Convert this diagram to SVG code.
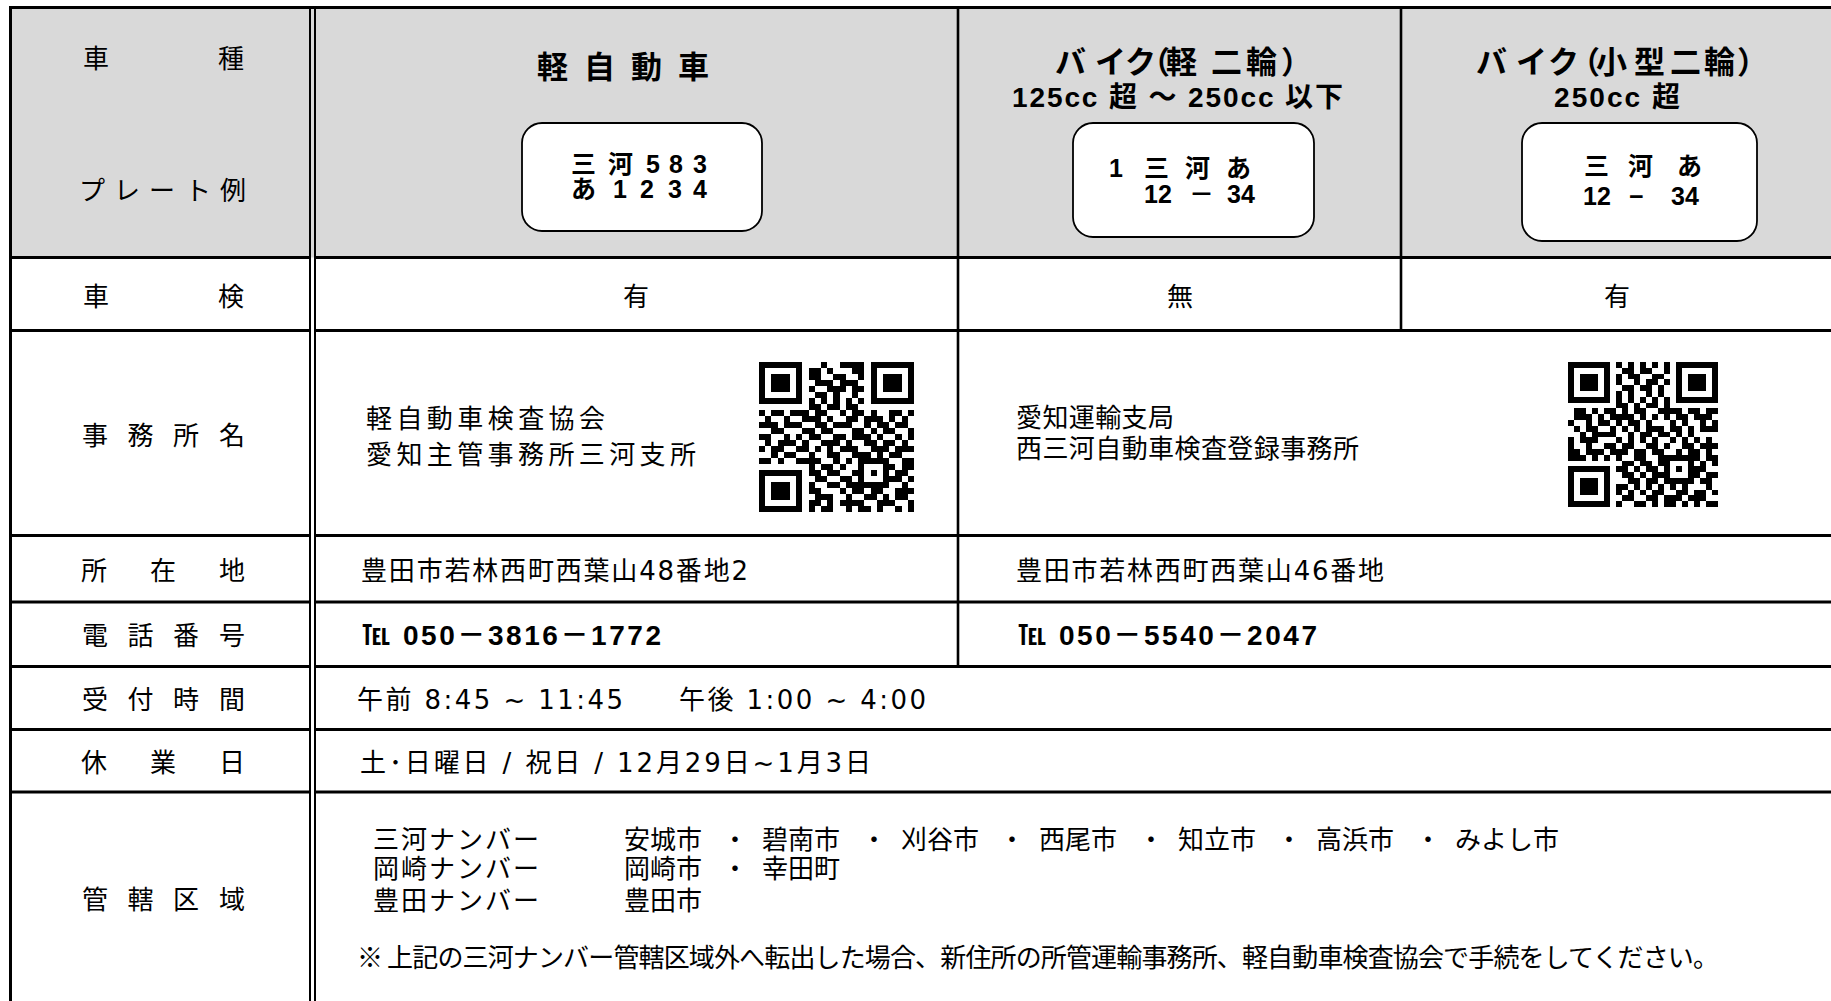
<svg xmlns="http://www.w3.org/2000/svg" xmlns:xlink="http://www.w3.org/1999/xlink" width="1831" height="1001" viewBox="0 0 1831 1001">
<style>
.lbl{font-family:"Noto Sans CJK JP","Liberation Sans",sans-serif;font-size:26px;fill:#000}
.dj{font-family:"DejaVu Sans","Noto Sans CJK JP",sans-serif;font-size:26px;fill:#000}
.hd{font-family:"Noto Sans CJK JP","Liberation Sans",sans-serif;font-size:31px;font-weight:bold;fill:#000}
.cc{font-family:"Liberation Sans","Noto Sans CJK JP",sans-serif;font-size:28px;font-weight:bold;fill:#000}
.pl{font-family:"Liberation Sans","Noto Sans CJK JP",sans-serif;font-size:25px;font-weight:bold;fill:#000}
.tel{font-family:"Liberation Sans","Noto Sans CJK JP",sans-serif;font-size:28px;font-weight:bold;fill:#000}
.plate{fill:#fff;stroke:#000;stroke-width:1.8}
.ln{stroke:#000;stroke-width:3;fill:none}
.dbl{stroke:#000;stroke-width:2;fill:none}
.col{stroke:#000;stroke-width:2.6;fill:none}
</style>
<defs>
<path id="qr" d="M0 0h7v1h-7zM10 0h1v1h-1zM13 0h4v1h-4zM18 0h7v1h-7zM0 1h1v1h-1zM6 1h1v1h-1zM8 1h2v1h-2zM11 1h1v1h-1zM15 1h2v1h-2zM18 1h1v1h-1zM24 1h1v1h-1zM0 2h1v1h-1zM2 2h3v1h-3zM6 2h1v1h-1zM8 2h2v1h-2zM12 2h2v1h-2zM16 2h1v1h-1zM18 2h1v1h-1zM20 2h3v1h-3zM24 2h1v1h-1zM0 3h1v1h-1zM2 3h3v1h-3zM6 3h1v1h-1zM9 3h3v1h-3zM13 3h3v1h-3zM18 3h1v1h-1zM20 3h3v1h-3zM24 3h1v1h-1zM0 4h1v1h-1zM2 4h3v1h-3zM6 4h1v1h-1zM8 4h1v1h-1zM11 4h3v1h-3zM15 4h2v1h-2zM18 4h1v1h-1zM20 4h3v1h-3zM24 4h1v1h-1zM0 5h1v1h-1zM6 5h1v1h-1zM9 5h2v1h-2zM12 5h1v1h-1zM15 5h1v1h-1zM18 5h1v1h-1zM24 5h1v1h-1zM0 6h7v1h-7zM8 6h1v1h-1zM10 6h1v1h-1zM12 6h1v1h-1zM14 6h1v1h-1zM16 6h1v1h-1zM18 6h7v1h-7zM8 7h2v1h-2zM11 7h2v1h-2zM14 7h2v1h-2zM0 8h1v1h-1zM2 8h2v1h-2zM5 8h3v1h-3zM9 8h2v1h-2zM13 8h1v1h-1zM15 8h2v1h-2zM18 8h1v1h-1zM21 8h2v1h-2zM24 8h1v1h-1zM1 9h1v1h-1zM4 9h1v1h-1zM7 9h3v1h-3zM11 9h1v1h-1zM14 9h2v1h-2zM17 9h3v1h-3zM21 9h1v1h-1zM23 9h1v1h-1zM0 10h3v1h-3zM4 10h3v1h-3zM9 10h2v1h-2zM12 10h3v1h-3zM17 10h1v1h-1zM19 10h2v1h-2zM22 10h2v1h-2zM2 11h2v1h-2zM7 11h2v1h-2zM10 11h2v1h-2zM15 11h2v1h-2zM18 11h1v1h-1zM20 11h2v1h-2zM24 11h1v1h-1zM0 12h2v1h-2zM4 12h1v1h-1zM6 12h1v1h-1zM8 12h2v1h-2zM12 12h2v1h-2zM15 12h3v1h-3zM19 12h1v1h-1zM22 12h1v1h-1zM24 12h1v1h-1zM1 13h1v1h-1zM3 13h3v1h-3zM7 13h1v1h-1zM10 13h3v1h-3zM14 13h1v1h-1zM17 13h2v1h-2zM20 13h2v1h-2zM23 13h1v1h-1zM0 14h1v1h-1zM2 14h2v1h-2zM6 14h2v1h-2zM9 14h1v1h-1zM11 14h1v1h-1zM13 14h3v1h-3zM18 14h3v1h-3zM22 14h3v1h-3zM2 15h1v1h-1zM4 15h2v1h-2zM8 15h1v1h-1zM11 15h2v1h-2zM15 15h3v1h-3zM19 15h1v1h-1zM21 15h2v1h-2zM0 16h2v1h-2zM3 16h1v1h-1zM6 16h4v1h-4zM12 16h1v1h-1zM14 16h1v1h-1zM16 16h5v1h-5zM23 16h2v1h-2zM8 17h1v1h-1zM10 17h2v1h-2zM13 17h1v1h-1zM16 17h1v1h-1zM20 17h2v1h-2zM23 17h2v1h-2zM0 18h7v1h-7zM8 18h2v1h-2zM11 18h2v1h-2zM15 18h2v1h-2zM18 18h1v1h-1zM20 18h1v1h-1zM22 18h2v1h-2zM0 19h1v1h-1zM6 19h1v1h-1zM9 19h2v1h-2zM13 19h2v1h-2zM16 19h1v1h-1zM20 19h3v1h-3zM24 19h1v1h-1zM0 20h1v1h-1zM2 20h3v1h-3zM6 20h1v1h-1zM8 20h1v1h-1zM11 20h2v1h-2zM14 20h7v1h-7zM23 20h1v1h-1zM0 21h1v1h-1zM2 21h3v1h-3zM6 21h1v1h-1zM8 21h2v1h-2zM13 21h1v1h-1zM15 21h2v1h-2zM18 21h2v1h-2zM22 21h3v1h-3zM0 22h1v1h-1zM2 22h3v1h-3zM6 22h1v1h-1zM9 22h3v1h-3zM14 22h1v1h-1zM17 22h2v1h-2zM20 22h1v1h-1zM22 22h2v1h-2zM0 23h1v1h-1zM6 23h1v1h-1zM8 23h2v1h-2zM11 23h1v1h-1zM13 23h4v1h-4zM19 23h3v1h-3zM24 23h1v1h-1zM0 24h7v1h-7zM8 24h1v1h-1zM10 24h2v1h-2zM14 24h1v1h-1zM16 24h2v1h-2zM19 24h1v1h-1zM22 24h1v1h-1zM24 24h1v1h-1z"/>
</defs>
<rect x="0" y="0" width="1831" height="1001" fill="#fff"/>
<rect id="header-bg" x="10" y="7.5" width="1821" height="250" fill="#d9d9d9"/>

<g id="grid">
<line class="ln" x1="9" y1="7.5" x2="1831" y2="7.5"/>
<line class="ln" x1="10.5" y1="6" x2="10.5" y2="1001"/>
<path class="ln" d="M10 257.5H310M315 257.5H1831M10 330.5H310M315 330.5H1831M10 535.5H310M315 535.5H1831M10 602H310M315 602H1831M10 666.5H310M315 666.5H1831M10 729.5H310M315 729.5H1831M10 792H310M315 792H1831"/>
<line class="dbl" x1="310" y1="6" x2="310" y2="1001"/>
<line class="dbl" x1="315" y1="6" x2="315" y2="1001"/>
<line class="col" x1="958" y1="6" x2="958" y2="666.5"/>
<line class="col" x1="1401" y1="6" x2="1401" y2="330.5"/>
</g>

<g id="label-col">
<text class="lbl" x="83 117 151 185 218" y="68">車　　　種</text>
<text class="lbl" x="79 114 149 185 220" y="200">プレート例</text>
<text class="lbl" x="83 117 151 185 218" y="306">車　　　検</text>
<text class="lbl" x="82 127.5 173 219" y="445">事務所名</text>
<text class="lbl" x="81 115 150 185 219" y="580">所　在　地</text>
<text class="lbl" x="82 127.5 173 219" y="645">電話番号</text>
<text class="lbl" x="82 127.5 173 219" y="709">受付時間</text>
<text class="lbl" x="81 115 150 185 219" y="772">休　業　日</text>
<text class="lbl" x="82 127.5 173 219" y="909">管轄区域</text>
</g>

<g id="kei">
<text class="hd" font-size="33" x="537 584 631 678" y="78">軽自動車</text>
<rect class="plate" x="522" y="123" width="240" height="108" rx="20"/>
<text class="pl" y="173"><tspan x="571">三 </tspan><tspan x="608">河 </tspan><tspan x="646">5 </tspan><tspan x="669">8 </tspan><tspan x="693">3</tspan></text>
<text class="pl" y="198"><tspan x="571">あ </tspan><tspan x="613">1 </tspan><tspan x="640">2 </tspan><tspan x="668">3 </tspan><tspan x="693">4</tspan></text>
<text class="lbl" x="636" y="306" text-anchor="middle">有</text>
</g>

<g id="bike-kei">
<text class="hd" x="1055 1095 1125 1139 1166 1211 1246 1281" y="73">バイク（軽二輪）</text>
<text class="cc" x="1012" y="107" textLength="331" lengthAdjust="spacing">125cc 超 ～ 250cc 以下</text>
<rect class="plate" x="1073" y="123" width="241" height="114" rx="20"/>
<text class="pl" y="177"><tspan x="1109">1 </tspan><tspan x="1144">三 </tspan><tspan x="1185">河 </tspan><tspan x="1226">あ</tspan></text>
<text class="pl" y="203"><tspan x="1144">12 </tspan><tspan x="1189">－ </tspan><tspan x="1227">34</tspan></text>
<text class="lbl" x="1180" y="306" text-anchor="middle">無</text>
</g>

<g id="bike-kogata">
<text class="hd" x="1476 1516 1548 1569 1596 1634 1670 1704 1737" y="73">バイク（小型二輪）</text>
<text class="cc" x="1554" y="107" textLength="126" lengthAdjust="spacing">250cc 超</text>
<rect class="plate" x="1522" y="123" width="235" height="118" rx="20"/>
<text class="pl" y="175"><tspan x="1584">三 </tspan><tspan x="1628">河 </tspan><tspan x="1677">あ</tspan></text>
<text class="pl" y="205"><tspan x="1583">12 </tspan><tspan x="1629">− </tspan><tspan x="1671">34</tspan></text>
<text class="lbl" x="1617" y="306" text-anchor="middle">有</text>
</g>

<g id="office-kei">
<text class="lbl" font-size="28" x="366" y="428" textLength="239" lengthAdjust="spacing">軽自動車検査協会</text>
<text class="lbl" font-size="28" x="366" y="464" textLength="330" lengthAdjust="spacing">愛知主管事務所三河支所</text>
<use xlink:href="#qr" href="#qr" transform="translate(759 362) scale(6.2 6)" shape-rendering="crispEdges"/>
<text class="dj" x="361" y="580" textLength="387" lengthAdjust="spacing">豊田市若林西町西葉山48番地2</text>
<text class="tel" x="362" y="645" textLength="299" lengthAdjust="spacing">℡ 050－3816－1772</text>
</g>

<g id="office-unyu">
<text class="lbl" font-size="24" x="1016" y="427" textLength="158" lengthAdjust="spacing">愛知運輸支局</text>
<text class="lbl" font-size="24" x="1016" y="458" textLength="343" lengthAdjust="spacing">西三河自動車検査登録事務所</text>
<use xlink:href="#qr" href="#qr" transform="translate(1568 362) scale(6 5.8) matrix(0 1 1 0 0 0)" shape-rendering="crispEdges"/>
<text class="dj" x="1016" y="580" textLength="368" lengthAdjust="spacing">豊田市若林西町西葉山46番地</text>
<text class="tel" x="1018" y="645" textLength="299" lengthAdjust="spacing">℡ 050－5540－2047</text>
</g>

<g id="hours">
<text class="dj" x="357" y="709" textLength="266" lengthAdjust="spacing">午前 8:45 ~ 11:45</text>
<text class="dj" x="679" y="709" textLength="247" lengthAdjust="spacing">午後 1:00 ~ 4:00</text>
</g>

<g id="holidays">
<text class="dj" x="360" y="772" textLength="511" lengthAdjust="spacing">土･日曜日 / 祝日 / 12月29日~1月3日</text>
</g>

<g id="area">
<text class="lbl" letter-spacing="2"><tspan x="373" y="849">三河ナンバー</tspan><tspan x="373" y="878">岡崎ナンバー</tspan><tspan x="373" y="910">豊田ナンバー</tspan></text>
<text class="lbl"><tspan x="624" y="849">安城市 </tspan><tspan x="722" y="849">・ </tspan><tspan x="762" y="849">碧南市 </tspan><tspan x="861" y="849">・ </tspan><tspan x="901" y="849">刈谷市 </tspan><tspan x="999" y="849">・ </tspan><tspan x="1039" y="849">西尾市 </tspan><tspan x="1138" y="849">・ </tspan><tspan x="1178" y="849">知立市 </tspan><tspan x="1276" y="849">・ </tspan><tspan x="1316" y="849">高浜市 </tspan><tspan x="1415" y="849">・ </tspan><tspan x="1455" y="849">みよし市</tspan><tspan x="624" y="878">岡崎市 </tspan><tspan x="722" y="878">・ </tspan><tspan x="762" y="878">幸田町</tspan><tspan x="624" y="910">豊田市</tspan></text>
<text class="lbl" font-size="25" x="357" y="967" textLength="1362" lengthAdjust="spacing">※ 上記の三河ナンバー管轄区域外へ転出した場合、新住所の所管運輸事務所、軽自動車検査協会で手続をしてください。</text>
</g>
</svg>
